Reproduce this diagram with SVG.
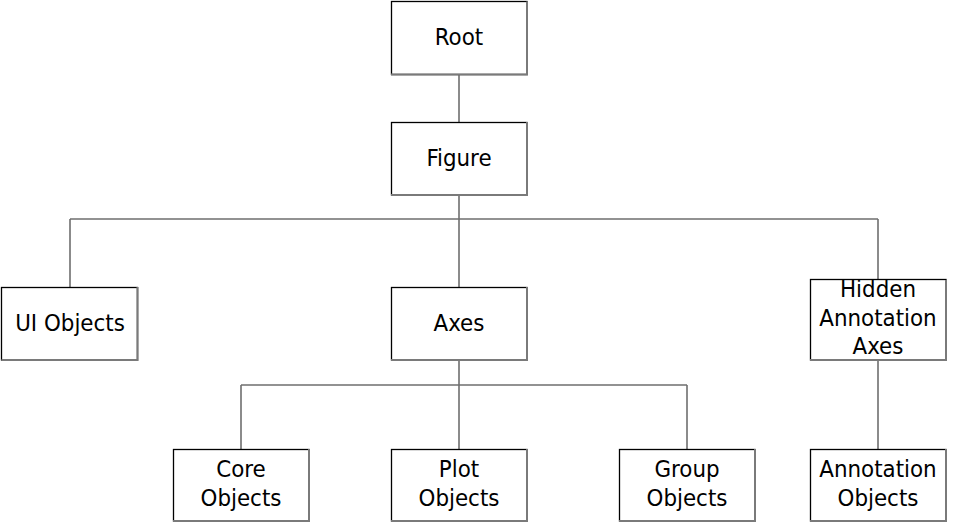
<svg xmlns="http://www.w3.org/2000/svg" width="958" height="526" viewBox="0 0 958 526">
<style>
.box{fill:#fff;stroke:#000;stroke-width:1.3}
.sh{fill:none;stroke:#7a7a7a;stroke-width:2}
.t{font-family:"DejaVu Sans Condensed","DejaVu Sans",sans-serif;font-stretch:condensed;font-size:23.8px;fill:#000;text-anchor:middle}
.c{fill:none;stroke:#6e6e6e;stroke-width:1.6}
</style>
<rect width="958" height="526" fill="#fff"/>
<g id="connectors">
<path class="c" d="M459 75V122"/>
<path class="c" d="M459 195V287"/>
<path class="c" d="M70 219H878"/>
<path class="c" d="M70 219V287"/>
<path class="c" d="M878 219V280"/>
<path class="c" d="M459 361V449"/>
<path class="c" d="M241 385H687"/>
<path class="c" d="M241 385V449"/>
<path class="c" d="M687 385V449"/>
<path class="c" d="M878 361V449"/>
</g>
<g id="root"><rect class="box" x="391.5" y="1.5" width="135.5" height="73"/><path class="sh" d="M527 1.5V74.5H391"/><text class="t" x="459" y="45">Root</text></g>
<g id="figure"><rect class="box" x="391.5" y="122.5" width="135.5" height="72.5"/><path class="sh" d="M527 122V195H391"/><text class="t" x="459" y="166">Figure</text></g>
<g id="ui"><rect class="box" x="1.5" y="287.5" width="136" height="72.5"/><path class="sh" d="M137.5 287V360H1.5"/><text class="t" x="70" y="331">UI Objects</text></g>
<g id="axes"><rect class="box" x="391.5" y="287.5" width="135.5" height="72.5"/><path class="sh" d="M527 287V360H391"/><text class="t" x="459" y="331">Axes</text></g>
<g id="hidden"><rect class="box" x="810.5" y="279.5" width="135.5" height="80.5"/><path class="sh" d="M946 280V360H810"/><text class="t" x="878" y="297">Hidden</text><text class="t" x="878" y="325.5">Annotation</text><text class="t" x="878" y="354">Axes</text></g>
<g id="core"><rect class="box" x="173.5" y="449.5" width="135.5" height="71.5"/><path class="sh" d="M309 449V521H173"/><text class="t" x="241" y="477">Core</text><text class="t" x="241" y="505.5">Objects</text></g>
<g id="plot"><rect class="box" x="391.5" y="449.5" width="135.5" height="71.5"/><path class="sh" d="M527 449V521H391"/><text class="t" x="459" y="477">Plot</text><text class="t" x="459" y="505.5">Objects</text></g>
<g id="group"><rect class="box" x="619.5" y="449.5" width="135.5" height="71.5"/><path class="sh" d="M755 449V521H619"/><text class="t" x="687" y="477">Group</text><text class="t" x="687" y="505.5">Objects</text></g>
<g id="annotation"><rect class="box" x="810.5" y="449.5" width="135.5" height="71.5"/><path class="sh" d="M946 449V521H810"/><text class="t" x="878" y="477">Annotation</text><text class="t" x="878" y="505.5">Objects</text></g>
</svg>
